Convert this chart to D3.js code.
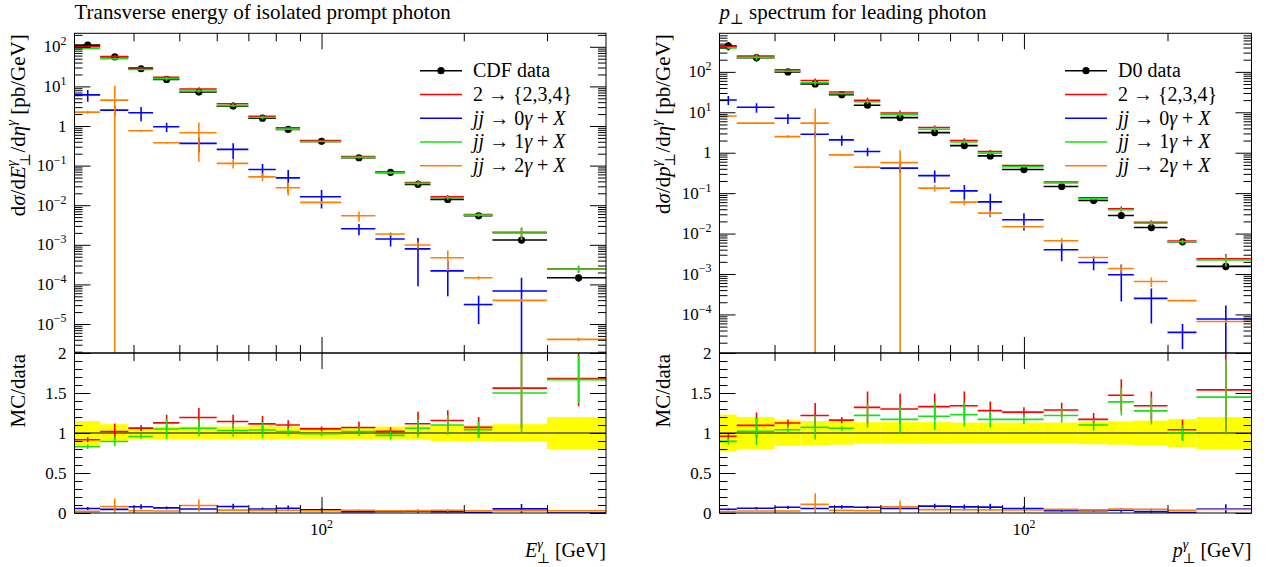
<!DOCTYPE html>
<html>
<head>
<meta charset="utf-8">
<script src="https://cdn.jsdelivr.net/npm/d3@7"></script>
<style>
  body { margin: 0; background: #fff; }
  svg { display: block; }
  text { font-family: "Liberation Serif", "DejaVu Serif", serif; fill: #000; }
</style>
</head>
<body>
<svg id="chart" width="1279" height="567"></svg>
<script>
// ---------------- CDF isolated prompt photon, E_T spectrum ----------------
const cdfEdges = [30, 34, 39, 44, 50, 60, 70, 80, 90, 110, 130, 150, 170, 200, 230, 300, 400];
const cdfData = [110, 56, 27.9, 15.0, 7.2, 3.18, 1.58, 0.82, 0.41, 0.158, 0.0675, 0.0336, 0.0140, 0.0054, 0.00132, 1.47e-4];
const cdfDataRelErr = [0.15, 0.11, 0.075, 0.08, 0.08, 0.08, 0.085, 0.08, 0.075, 0.075, 0.08, 0.085, 0.1, 0.1, 0.11, 0.2];
const cdfMC234 = [100.8, 57.1, 29.6, 16.9, 8.60, 3.64, 1.76, 0.902, 0.431, 0.169, 0.0689, 0.0375, 0.0162, 0.00578, 0.00206, 2.47e-4];
const cdfMC234Err = [3.3, 5.6, 1.12, 1.5, 0.86, 0.27, 0.158, 0.049, 0.0123, 0.011, 0.0034, 0.005, 0.0018, 0.0007, 0.00066, 5.1e-5];
const cdfJJ0 = [6.1, 2.52, 2.16, 0.955, 0.364, 0.257, 0.080, 0.049, 0.0163, 0.00254, 0.0014, 7.9e-4, 2.2e-4, 3.1e-5, 6.8e-5, 0];
const cdfJJ0Err = [2, 0.7, 0.85, 0.25, 0.15, 0.11, 0.03, 0.028, 0.008, 0.0008, 0.0005, 7e-4, 1.7e-4, 2.1e-5, 8e-5, 0];
const cdfJJ1 = [91.3, 50.1, 26.7, 15.75, 7.63, 3.28, 1.64, 0.836, 0.406, 0.161, 0.0655, 0.0356, 0.0154, 0.00562, 0.00198, 2.45e-4];
const cdfJJ1Err = [3.3, 3.4, 0.84, 1.9, 0.72, 0.25, 0.158, 0.041, 0.0123, 0.0095, 0.0034, 0.004, 0.0017, 0.00054, 0.00066, 4.4e-5];
const cdfJJ2 = [2.24, 4.5, 0.76, 0.377, 0.675, 0.114, 0.052, 0.0275, 0.0118, 0.0054, 0.00187, 9.9e-4, 4.7e-4, 1.47e-4, 3.96e-5, 4.1e-6];
const cdfJJ2Err = [0.2, 5.7, 0.05, 0.02, 0.55, 0.03, 0.012, 0.01, 0.001, 0.0015, 0.0002, 2e-4, 2.5e-4, 1.5e-5, 3e-6, 4e-7];

// ---------------- D0 leading photon, p_T spectrum ----------------
const d0Edges = [23, 25, 30, 34, 39, 44, 50, 60, 70, 80, 90, 110, 130, 150, 170, 200, 230, 300];
const d0Data = [437, 224, 99.5, 50.2, 27.3, 15.0, 7.4, 3.15, 1.50, 0.835, 0.383, 0.146, 0.0656, 0.028, 0.0141, 0.00626, 0.00154];
const d0DataRelErr = [0.23, 0.2, 0.16, 0.15, 0.145, 0.135, 0.135, 0.135, 0.13, 0.13, 0.13, 0.13, 0.14, 0.145, 0.155, 0.175, 0.2];
const d0MC234 = [419.5, 245.3, 111.9, 61.2, 31.7, 19.8, 9.62, 4.19, 2.01, 1.069, 0.483, 0.188, 0.0768, 0.0412, 0.0189, 0.00651, 0.00237];
const d0MC234Err = [17.5, 35.8, 4.48, 7.78, 1.09, 3.0, 1.41, 0.52, 0.27, 0.096, 0.023, 0.0131, 0.0052, 0.0056, 0.0025, 7.8e-4, 7.7e-4];
const d0JJ0 = [20.2, 13.3, 7.1, 2.87, 2.08, 1.07, 0.415, 0.272, 0.114, 0.061, 0.0219, 0.00397, 0.00193, 9.6e-4, 2.5e-4, 3.6e-5, 7.7e-5];
const d0JJ0Err = [5, 3.5, 2, 0.5, 0.6, 0.25, 0.1, 0.09, 0.045, 0.035, 0.01, 0.0019, 0.0007, 7.5e-4, 1.9e-4, 2.2e-5, 9e-5];
const d0JJ1 = [391.1, 228.5, 103.5, 53.7, 28.9, 18.3, 8.66, 3.81, 1.845, 0.977, 0.448, 0.178, 0.0722, 0.0389, 0.018, 0.00626, 0.00223];
const d0JJ1Err = [17.5, 38.1, 3.98, 7.53, 0.82, 2.25, 1.26, 0.54, 0.225, 0.0835, 0.023, 0.0131, 0.0046, 0.0048, 0.0024, 6.3e-4, 7.2e-4];
const d0JJ2 = [8.1, 5.4, 2.5, 5.4, 0.885, 0.44, 0.57, 0.133, 0.06, 0.032, 0.0147, 0.00664, 0.00257, 0.00137, 6.5e-4, 2.2e-4, 6.7e-5];
const d0JJ2Err = [0.5, 0.3, 0.2, 7, 0.05, 0.03, 0.58, 0.025, 0.01, 0.005, 0.0015, 0.0013, 0.0002, 0.0003, 1.7e-4, 1e-5, 5e-6];

// ---------------- ticks and labels ----------------
const ratioMajorTicks = [0, 0.5, 1, 1.5, 2];
const ratioTickLabels = ["0", "0.5", "1", "1.5", "2"];
const xLabelledTicks = [100];
const xLabelledTickText = [{ base: "10", exp: "2" }];

const colors = { data: "#000", mc234: "#ff0000", jj0: "#0000ff", jj1: "#19e019", jj2: "#ff8000", band: "#ffff00" };

const svg = d3.select("#chart");
const FS = 20;       // legend / axis title size
const HFS = 21;      // panel title and y title size
const TFS = 17;      // tick label size

// Append a text built from styled pieces (italic, super/subscripts).
function richText(sel, parts, size) {
  let cur = 0;
  parts.forEach(p => {
    const ts = sel.append("tspan").text(p.t);
    const target = p.sup ? -0.42 * size : p.sub ? 0.28 * size : 0;
    if (target !== cur) ts.attr("dy", target - cur);
    cur = target;
    if (p.sup || p.sub) ts.attr("font-size", size * 0.7);
    if (p.it) ts.attr("font-style", "italic");
    if (p.dx) ts.attr("dx", p.dx);
  });
  return sel;
}

function logMinor(lo, hi) {
  const out = [];
  for (let n = Math.floor(Math.log10(lo)) - 1; n <= Math.ceil(Math.log10(hi)); n++) {
    for (let k = 2; k <= 9; k++) {
      const v = k * Math.pow(10, n);
      if (v >= lo && v <= hi) out.push(v);
    }
  }
  return out;
}
function logMajor(lo, hi) {
  const out = [];
  for (let n = Math.ceil(Math.log10(lo) - 1e-9); n <= Math.floor(Math.log10(hi) + 1e-9); n++) out.push(Math.pow(10, n));
  return out;
}

function tickAxis(g, axisFn, scale, vals, size, tr) {
  g.append("g").attr("transform", tr)
    .call(axisFn(scale).tickValues(vals).tickSize(-size).tickSizeOuter(0).tickFormat(""))
    .call(s => s.select(".domain").remove())
    .call(s => s.selectAll("line").attr("stroke", "#000").attr("stroke-width", 1));
}

function drawPanel(cfg, idx) {
  const { x0, x1, yTop, yMid, yBot, xDom, yDom, edges, data, dataRelErr, series } = cfg;
  const x = d3.scaleLog().domain(xDom).range([x0, x1]);
  const y = d3.scaleLog().domain(yDom).range([yMid, yTop]);
  const r = d3.scaleLinear().domain([0, 2]).range([yBot, yMid]);
  const g = svg.append("g");
  const defs = svg.append("defs");
  defs.append("clipPath").attr("id", "cm" + idx).append("rect")
    .attr("x", x0).attr("y", yTop).attr("width", x1 - x0).attr("height", yMid - yTop);
  defs.append("clipPath").attr("id", "cr" + idx).append("rect")
    .attr("x", x0).attr("y", yMid).attr("width", x1 - x0).attr("height", yBot - yMid);

  const bins = data.map((d, i) => ({ i, lo: edges[i], hi: edges[i + 1], mid: (edges[i] + edges[i + 1]) / 2 }));

  // ----- main panel -----
  const gm = g.append("g").attr("clip-path", `url(#cm${idx})`);
  const yFloor = yDom[0] * 1e-3;

  // data points
  const gd = gm.append("g").attr("stroke", colors.data).attr("stroke-width", 1.6);
  bins.forEach(b => {
    const v = data[b.i], e = v * dataRelErr[b.i];
    gd.append("line").attr("x1", x(b.lo)).attr("x2", x(b.hi)).attr("y1", y(v)).attr("y2", y(v));
    gd.append("line").attr("x1", x(b.mid)).attr("x2", x(b.mid)).attr("y1", y(v + e)).attr("y2", y(Math.max(v - e, yFloor)));
    gd.append("circle").attr("cx", x(b.mid)).attr("cy", y(v)).attr("r", 3.6).attr("fill", colors.data).attr("stroke", "none");
  });

  series.forEach(s => {
    const gs = gm.append("g").attr("stroke", s.color).attr("stroke-width", 1.6);
    bins.forEach(b => {
      const v = s.values[b.i], e = s.errors[b.i];
      if (!(v > 0)) return;
      gs.append("line").attr("x1", x(b.lo)).attr("x2", x(b.hi)).attr("y1", y(v)).attr("y2", y(v));
      if (e > 0) gs.append("line").attr("x1", x(b.mid)).attr("x2", x(b.mid))
        .attr("y1", y(v + e)).attr("y2", y(Math.max(v - e, yFloor)));
    });
  });

  // ----- ratio panel -----
  const gr = g.append("g").attr("clip-path", `url(#cr${idx})`);
  gr.append("g").selectAll("rect").data(bins).join("rect")
    .attr("x", b => x(b.lo)).attr("width", b => x(b.hi) - x(b.lo))
    .attr("y", b => r(1 + dataRelErr[b.i])).attr("height", b => r(1 - dataRelErr[b.i]) - r(1 + dataRelErr[b.i]))
    .attr("fill", colors.band);
  gr.append("line").attr("x1", x0).attr("x2", x1).attr("y1", r(1)).attr("y2", r(1))
    .attr("stroke", "#000").attr("stroke-width", 1.2);
  series.forEach(s => {
    const gs = gr.append("g").attr("stroke", s.color).attr("stroke-width", 1.6);
    bins.forEach(b => {
      const d = data[b.i];
      const v = s.values[b.i] / d, e = s.errors[b.i] / d;
      gs.append("line").attr("x1", x(b.lo)).attr("x2", x(b.hi)).attr("y1", r(v)).attr("y2", r(v));
      if (e > 0) gs.append("line").attr("x1", x(b.mid)).attr("x2", x(b.mid))
        .attr("y1", r(v + e)).attr("y2", r(v - e));
    });
  });

  // ----- frames and ticks -----
  const gt = g.append("g");
  [[yTop, yMid], [yMid, yBot]].forEach(([a, b]) => {
    gt.append("rect").attr("x", x0).attr("y", a).attr("width", x1 - x0).attr("height", b - a)
      .attr("fill", "none").attr("stroke", "#000").attr("stroke-width", 1);
  });
  const xMinor = logMinor(xDom[0], xDom[1]).filter(v => v > xDom[0] && v < xDom[1]);
  const xMajor = logMajor(xDom[0], xDom[1]);
  [[yTop, yMid], [yMid, yBot]].forEach(([a, b]) => {
    tickAxis(gt, d3.axisTop, x, xMinor, 8, `translate(0,${a})`);
    tickAxis(gt, d3.axisTop, x, xMajor, 16, `translate(0,${a})`);
    tickAxis(gt, d3.axisBottom, x, xMinor, 8, `translate(0,${b})`);
    tickAxis(gt, d3.axisBottom, x, xMajor, 16, `translate(0,${b})`);
  });
  const yMinor = logMinor(yDom[0], yDom[1]);
  const yMajor = logMajor(yDom[0], yDom[1]);
  tickAxis(gt, d3.axisLeft, y, yMinor, 8, `translate(${x0},0)`);
  tickAxis(gt, d3.axisLeft, y, yMajor, 16, `translate(${x0},0)`);
  tickAxis(gt, d3.axisRight, y, yMinor, 8, `translate(${x1},0)`);
  tickAxis(gt, d3.axisRight, y, yMajor, 16, `translate(${x1},0)`);
  const rMinor = d3.range(1, 20).map(k => k / 10).filter(v => ratioMajorTicks.indexOf(v) < 0);
  tickAxis(gt, d3.axisLeft, r, rMinor, 8, `translate(${x0},0)`);
  tickAxis(gt, d3.axisLeft, r, ratioMajorTicks, 16, `translate(${x0},0)`);
  tickAxis(gt, d3.axisRight, r, rMinor, 8, `translate(${x1},0)`);
  tickAxis(gt, d3.axisRight, r, ratioMajorTicks, 16, `translate(${x1},0)`);

  // y tick labels of main panel
  yMajor.forEach(v => {
    const n = Math.round(Math.log10(v));
    const t = gt.append("text").attr("x", x0 - 8).attr("y", y(v) + 5.5).attr("text-anchor", "end").attr("font-size", TFS);
    if (n === 0) t.text("1");
    else richText(t, [{ t: "10" }, { t: n < 0 ? "\u2212" + (-n) : String(n), sup: true }], TFS);
  });
  // ratio tick labels
  ratioMajorTicks.forEach((v, i) => {
    gt.append("text").attr("x", x0 - 8).attr("y", r(v) + 5.5).attr("text-anchor", "end")
      .attr("font-size", TFS).text(ratioTickLabels[i]);
  });
  // x tick labels
  xLabelledTicks.forEach((v, i) => {
    const t = gt.append("text").attr("x", x(v)).attr("y", yBot + 22).attr("text-anchor", "middle").attr("font-size", TFS);
    richText(t, [{ t: xLabelledTickText[i].base }, { t: xLabelledTickText[i].exp, sup: true }], TFS);
  });

  // titles
  richText(svg.append("text").attr("x", x0).attr("y", 18.5).attr("font-size", HFS), cfg.title, HFS);
  richText(svg.append("text").attr("x", x1).attr("y", 557).attr("text-anchor", "end").attr("font-size", FS), cfg.xTitle, FS);
  richText(svg.append("text").attr("transform", `translate(${x0 - 50},${yTop + 1}) rotate(-90)`)
    .attr("text-anchor", "end").attr("font-size", HFS), cfg.yTitle, HFS);
  svg.append("text").attr("transform", `translate(${x0 - 50},${yMid + 1}) rotate(-90)`)
    .attr("text-anchor", "end").attr("font-size", HFS).text("MC/data");

  // legend
  const lg = svg.append("g");
  const rows = [{ label: cfg.dataLabel, color: colors.data, dot: true }].concat(series.map(s => ({ label: s.label, color: s.color })));
  rows.forEach((row, k) => {
    const yy = 70.7 + k * 23.75;
    const lx = cfg.legendX;
    lg.append("line").attr("x1", lx).attr("x2", lx + 42).attr("y1", yy).attr("y2", yy)
      .attr("stroke", row.color).attr("stroke-width", 1.6);
    if (row.dot) lg.append("circle").attr("cx", lx + 21).attr("cy", yy).attr("r", 3.6).attr("fill", row.color);
    richText(lg.append("text").attr("x", lx + 53).attr("y", yy + 6.5).attr("font-size", FS), row.label, FS);
  });
}

const mcLabels = [
  [{ t: "2 \u2192 {2,3,4}" }],
  [{ t: "jj", it: true }, { t: " \u2192 0" }, { t: "\u03b3", it: true }, { t: " + " }, { t: "X", it: true }],
  [{ t: "jj", it: true }, { t: " \u2192 1" }, { t: "\u03b3", it: true }, { t: " + " }, { t: "X", it: true }],
  [{ t: "jj", it: true }, { t: " \u2192 2" }, { t: "\u03b3", it: true }, { t: " + " }, { t: "X", it: true }]
];

drawPanel({
  x0: 74.5, x1: 606, yTop: 33.3, yMid: 353, yBot: 513,
  xDom: [30, 400], yDom: [Math.pow(10, -5.732), Math.pow(10, 2.341)],
  edges: cdfEdges, data: cdfData, dataRelErr: cdfDataRelErr,
  series: [
    { values: cdfMC234, errors: cdfMC234Err, color: colors.mc234, label: mcLabels[0] },
    { values: cdfJJ0, errors: cdfJJ0Err, color: colors.jj0, label: mcLabels[1] },
    { values: cdfJJ1, errors: cdfJJ1Err, color: colors.jj1, label: mcLabels[2] },
    { values: cdfJJ2, errors: cdfJJ2Err, color: colors.jj2, label: mcLabels[3] }
  ],
  dataLabel: [{ t: "CDF data" }],
  legendX: 420,
  title: [{ t: "Transverse energy of isolated prompt photon" }],
  xTitle: [{ t: "E", it: true }, { t: "\u03b3", it: true, sup: true }, { t: "\u22a5", sub: true, dx: -6 }, { t: " [GeV]" }],
  yTitle: [{ t: "d" }, { t: "\u03c3", it: true }, { t: "/d" }, { t: "E", it: true }, { t: "\u03b3", it: true, sup: true },
           { t: "\u22a5", sub: true, dx: -6 }, { t: "/d" }, { t: "\u03b7", it: true }, { t: "\u03b3", it: true, sup: true }, { t: " [pb/GeV]" }]
}, 0);

drawPanel({
  x0: 719.5, x1: 1251.5, yTop: 33.3, yMid: 353, yBot: 513,
  xDom: [23, 300], yDom: [Math.pow(10, -4.954), Math.pow(10, 2.954)],
  edges: d0Edges, data: d0Data, dataRelErr: d0DataRelErr,
  series: [
    { values: d0MC234, errors: d0MC234Err, color: colors.mc234, label: mcLabels[0] },
    { values: d0JJ0, errors: d0JJ0Err, color: colors.jj0, label: mcLabels[1] },
    { values: d0JJ1, errors: d0JJ1Err, color: colors.jj1, label: mcLabels[2] },
    { values: d0JJ2, errors: d0JJ2Err, color: colors.jj2, label: mcLabels[3] }
  ],
  dataLabel: [{ t: "D0 data" }],
  legendX: 1065,
  title: [{ t: "p", it: true }, { t: "\u22a5", sub: true }, { t: " spectrum for leading photon" }],
  xTitle: [{ t: "p", it: true }, { t: "\u03b3", it: true, sup: true }, { t: "\u22a5", sub: true, dx: -6 }, { t: " [GeV]" }],
  yTitle: [{ t: "d" }, { t: "\u03c3", it: true }, { t: "/d" }, { t: "p", it: true }, { t: "\u03b3", it: true, sup: true },
           { t: "\u22a5", sub: true, dx: -6 }, { t: "/d" }, { t: "\u03b7", it: true }, { t: "\u03b3", it: true, sup: true }, { t: " [pb/GeV]" }]
}, 1);
</script>
</body>
</html>
